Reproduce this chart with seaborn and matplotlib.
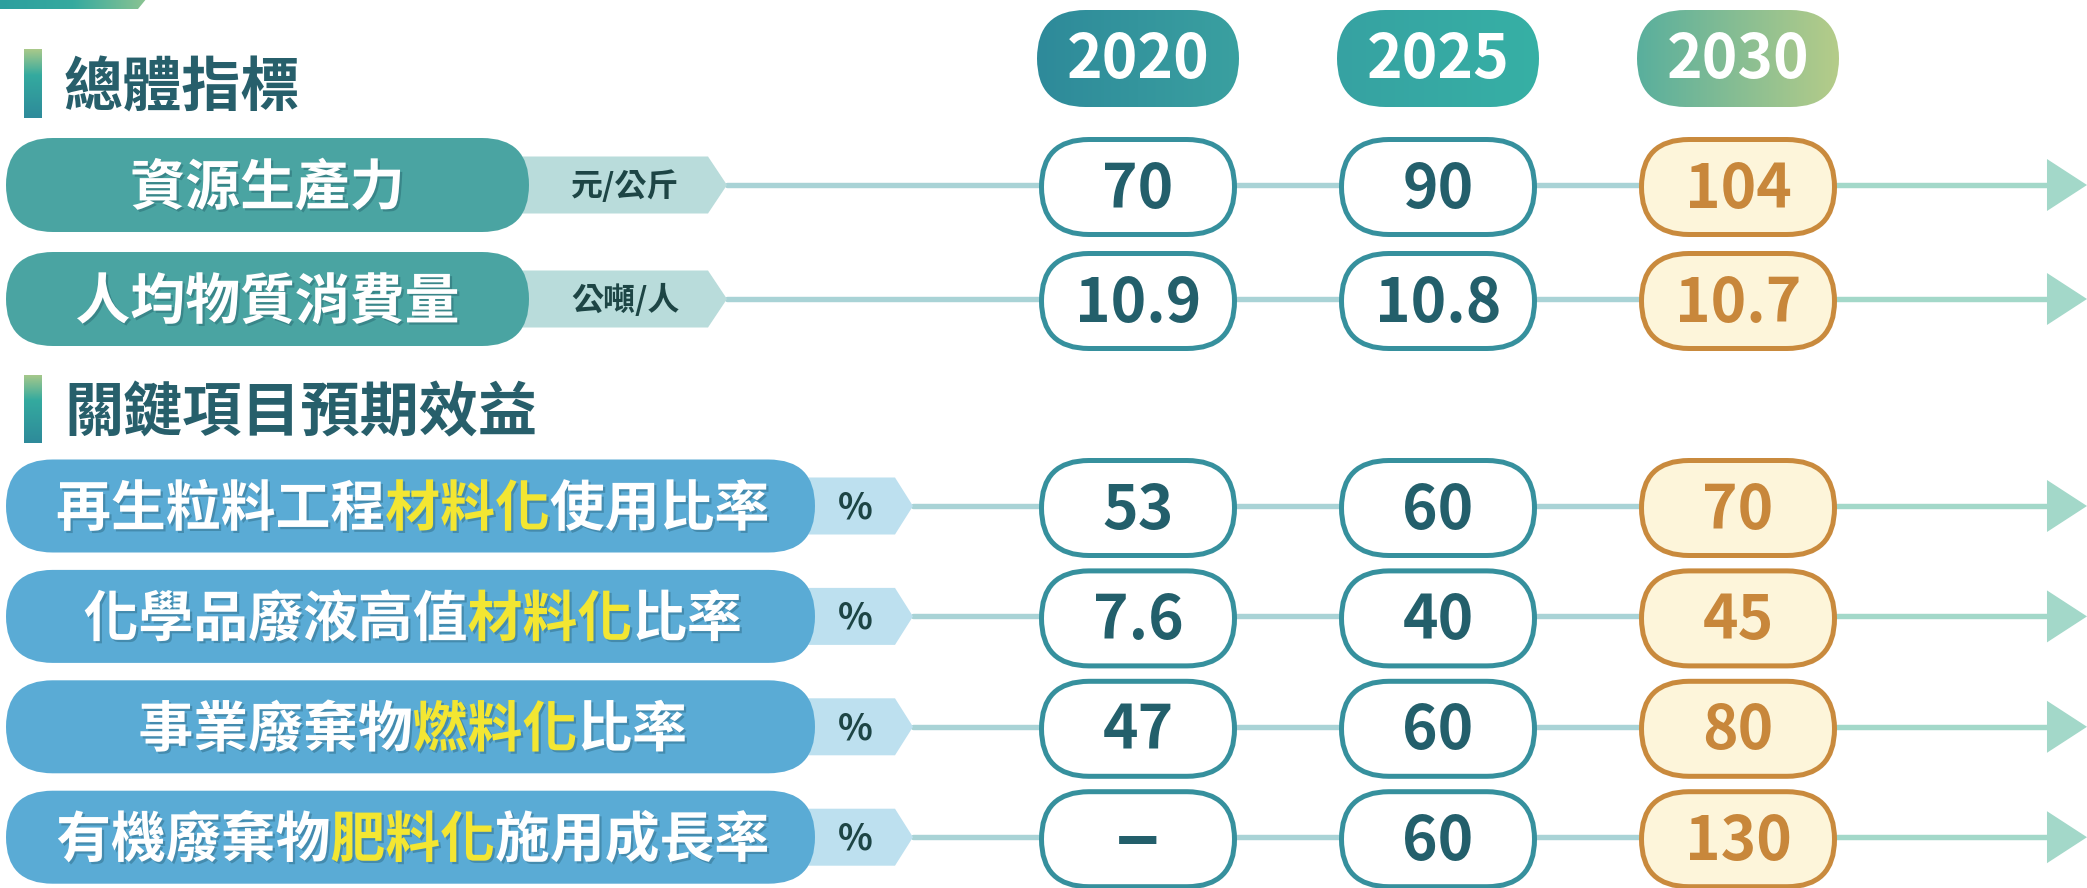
import numpy as np
import pandas as pd
import matplotlib
matplotlib.use("Agg")
import matplotlib.pyplot as plt
import seaborn as sns
from matplotlib.patches import FancyBboxPatch, Polygon, Rectangle
from matplotlib.colors import LinearSegmentedColormap
import matplotlib.patheffects as pe

# ---------------- data ----------------
years = ["2020", "2025", "2030"]
section_titles = ["總體指標", "關鍵項目預期效益"]

overall_items = ["資源生產力", "人均物質消費量"]
overall_units = ["元/公斤", "公噸/人"]
overall_2020 = [70, 10.9]
overall_2025 = [90, 10.8]
overall_2030 = [104, 10.7]

key_items_pre = ["再生粒料工程", "化學品廢液高值", "事業廢棄物", "有機廢棄物"]
key_items_hi = ["材料化", "材料化", "燃料化", "肥料化"]
key_items_post = ["使用比率", "比率", "比率", "施用成長率"]
key_units = ["%", "%", "%", "%"]
key_2020 = [53, 7.6, 47, None]
key_2025 = [60, 40, 60, 60]
key_2030 = [70, 45, 80, 130]
missing_label = "–"

# ---------------- style ----------------
sns.set_theme(style="white")
FONT = ["Noto Sans CJK TC", "DejaVu Sans"]
plt.rcParams["font.family"] = FONT

W, H = 2087, 888
PX = 100 / 72.0  # px per point

C_TITLE = "#275f6b"
C_VAL = "#235f6b"
C_ORANGE = "#c8873b"
C_TEAL_PILL = "#4aa4a2"
C_TEAL_TAB = "#b9dcdb"
C_BLUE_PILL = "#5aabd5"
C_BLUE_TAB = "#bde0ef"
C_UNIT = "#1d4545"
C_YELLOW = "#f3e632"
C_LINE_A = "#a9d3d6"
C_LINE_B = "#a3d8c9"
C_BORDER = "#36909d"
C_BORDER_O = "#c98a3d"
C_FILL_O = "#fdf5da"

fig = plt.figure(figsize=(W / 100, H / 100), dpi=100, facecolor="white")
ax = fig.add_axes([0, 0, 1, 1])
ax.set_xlim(0, W)
ax.set_ylim(H, 0)
ax.axis("off")

# layout
COL_X0, COL_STEP = 1138, 300
col_x = [COL_X0 + COL_STEP * j for j in range(len(years))]
g1_y = [185 + 114 * i for i in range(len(overall_items))]
g2_y = [506 + 110.4 * i for i in range(len(key_items_pre))]
title_y = [84, 409]
ARROW_BASE, ARROW_TIP = 2047, 2087


def stadium(x0, y0, w, h, **kw):
    return FancyBboxPatch((x0, y0), w, h,
                          boxstyle=f"round,pad=0,rounding_size={h / 2}", **kw)


def gradient(patch, extent, colors, vertical=False, z=2):
    patch.set_facecolor("none")
    patch.set_edgecolor("none")
    patch.set_zorder(z)
    ax.add_patch(patch)
    cmap = LinearSegmentedColormap.from_list("g", colors)
    arr = np.linspace(0, 1, 256)
    arr = arr.reshape(-1, 1) if vertical else arr.reshape(1, -1)
    im = ax.imshow(arr, cmap=cmap, extent=extent, aspect="auto", zorder=z,
                   interpolation="bilinear", origin="upper")
    im.set_clip_path(patch)


def cjk_text(x, yc, s, fs, **kw):
    em = fs * PX
    return ax.text(x, yc + 0.38 * em, s, fontsize=fs, fontweight="bold",
                   va="baseline", family=FONT, **kw)


def num_text(x, yc, s, fs, **kw):
    em = fs * PX
    return ax.text(x, yc + 0.34 * em, s, fontsize=fs, fontweight="bold",
                   va="baseline", ha="center", family=FONT, **kw)


shadow = [pe.withSimplePatchShadow(offset=(1.6, -1.6), shadow_rgbFace="#0d3b4a", alpha=0.28)]

# ---------------- decorations ----------------
gradient(Polygon([(0, -2), (147, -2), (138, 9), (0, 9)], closed=True),
         [0, 147, 9, -2], ["#2d9f9e", "#35aa9f", "#8cc492"])

for ty in title_y:
    bx, bw, bh = 24, 18, 69
    gradient(Rectangle((bx, ty - bh / 2), bw, bh), [bx, bx + bw, ty + bh / 2, ty - bh / 2],
             [(0, "#aac98a"), (0.38, "#34aa9f"), (1, "#2e8a9a")], vertical=True)
for ty, t in zip(title_y, section_titles):
    cjk_text(64, ty, t, 42.6, color=C_TITLE, ha="left")

# ---------------- connector lines (seaborn) ----------------
rows_y = g1_y + g2_y
tips = [727] * len(g1_y) + [913] * len(g2_y)
recs = []
for i, (yy, tx) in enumerate(zip(rows_y, tips)):
    recs += [dict(x=tx, y=yy, seg="a", uid=f"{i}a"), dict(x=col_x[-1], y=yy, seg="a", uid=f"{i}a"),
             dict(x=col_x[-1], y=yy, seg="b", uid=f"{i}b"), dict(x=ARROW_BASE + 2, y=yy, seg="b", uid=f"{i}b")]
lines_df = pd.DataFrame(recs)
sns.lineplot(data=lines_df, x="x", y="y", hue="seg", units="uid", estimator=None, sort=False,
             palette={"a": C_LINE_A, "b": C_LINE_B}, linewidth=3.9, legend=False, ax=ax, zorder=1)

arrow_df = pd.DataFrame({"x": [(ARROW_BASE + ARROW_TIP) / 2] * len(rows_y), "y": rows_y})
sns.scatterplot(data=arrow_df, x="x", y="y", marker=[(-0.77, -1), (-0.77, 1), (0.77, 0)],
                s=(52 / PX) ** 2, color=C_LINE_B, edgecolor="none", linewidth=0,
                legend=False, ax=ax, zorder=1)

# ---------------- year headers ----------------
head_grads = [["#2e8a9a", "#3aa0a0"], ["#36a2a2", "#37b0a5"], ["#59af9d", "#b5cc89"]]
HW, HH, HY = 202, 97, 58.5
for cx, yr, gc in zip(col_x, years, head_grads):
    p = stadium(cx - HW / 2, HY - HH / 2, HW, HH)
    gradient(p, [cx - HW / 2, cx + HW / 2, HY + HH / 2, HY - HH / 2], gc, z=3)
    num_text(cx, HY - 1, yr, 43.5, color="white", zorder=5)

# ---------------- left labels ----------------
PILL_H = 94
TAB_H = 57
for yy, name, unit in zip(g1_y, overall_items, overall_units):
    ax.add_patch(Polygon([(480, yy - TAB_H / 2), (708, yy - TAB_H / 2), (727, yy),
                          (708, yy + TAB_H / 2), (480, yy + TAB_H / 2)],
                         closed=True, facecolor=C_TEAL_TAB, edgecolor="none", zorder=2))
    x0, x1 = 6, 529
    ax.add_patch(stadium(x0, yy - PILL_H / 2, x1 - x0, PILL_H, facecolor=C_TEAL_PILL,
                         edgecolor="none", zorder=3))
    cjk_text((x0 + x1) / 2, yy - 1, name, 39.5, color="white", ha="center",
             zorder=5, path_effects=shadow)
    cjk_text(625, yy - 1, unit, 23, color=C_UNIT, ha="center", zorder=5)

for yy, pre, hi, post, unit in zip(g2_y, key_items_pre, key_items_hi, key_items_post, key_units):
    ax.add_patch(Polygon([(780, yy - TAB_H / 2), (895, yy - TAB_H / 2), (913, yy),
                          (895, yy + TAB_H / 2), (780, yy + TAB_H / 2)],
                         closed=True, facecolor=C_BLUE_TAB, edgecolor="none", zorder=2))
    x0, x1 = 6, 815
    ax.add_patch(stadium(x0, yy - 93 / 2, x1 - x0, 93, facecolor=C_BLUE_PILL,
                         edgecolor="none", zorder=3))
    fs = 39.5
    em = fs * PX
    n = len(pre) + len(hi) + len(post)
    start = (x0 + x1) / 2 - n * em / 2
    off = 0
    for part, col in ((pre, "white"), (hi, C_YELLOW), (post, "white")):
        cjk_text(start + off * em + 0.04 * em, yy - 1, part, fs, color=col, ha="left",
                 zorder=5, path_effects=shadow)
        off += len(part)
    ax.text(855, yy + 0.34 * 26 * PX, unit, fontsize=26, fontweight="bold", ha="center",
            va="baseline", color=C_UNIT, family=FONT, zorder=5)

# ---------------- value pills ----------------
values = [overall_2020 + key_2020, overall_2025 + key_2025, overall_2030 + key_2030]
LW = 5
VW, VH = 198, 100
for j, (cx, col_vals) in enumerate(zip(col_x, values)):
    last = j == len(col_x) - 1
    for yy, v in zip(rows_y, col_vals):
        cy = yy + 2
        ax.add_patch(stadium(cx - (VW - LW) / 2, cy - (VH - LW) / 2, VW - LW, VH - LW,
                             facecolor=C_FILL_O if last else "white",
                             edgecolor=C_BORDER_O if last else C_BORDER,
                             linewidth=LW / PX, zorder=3))
        if v is None:
            ax.text(cx, cy, missing_label, fontsize=60, fontweight="bold", ha="center",
                    va="center", color=C_VAL, family=FONT, zorder=5)
        else:
            num_text(cx, cy, f"{v:g}", 43.5, color=C_ORANGE if last else C_VAL, zorder=5)

fig.savefig("out.png", dpi=100, facecolor="white")
